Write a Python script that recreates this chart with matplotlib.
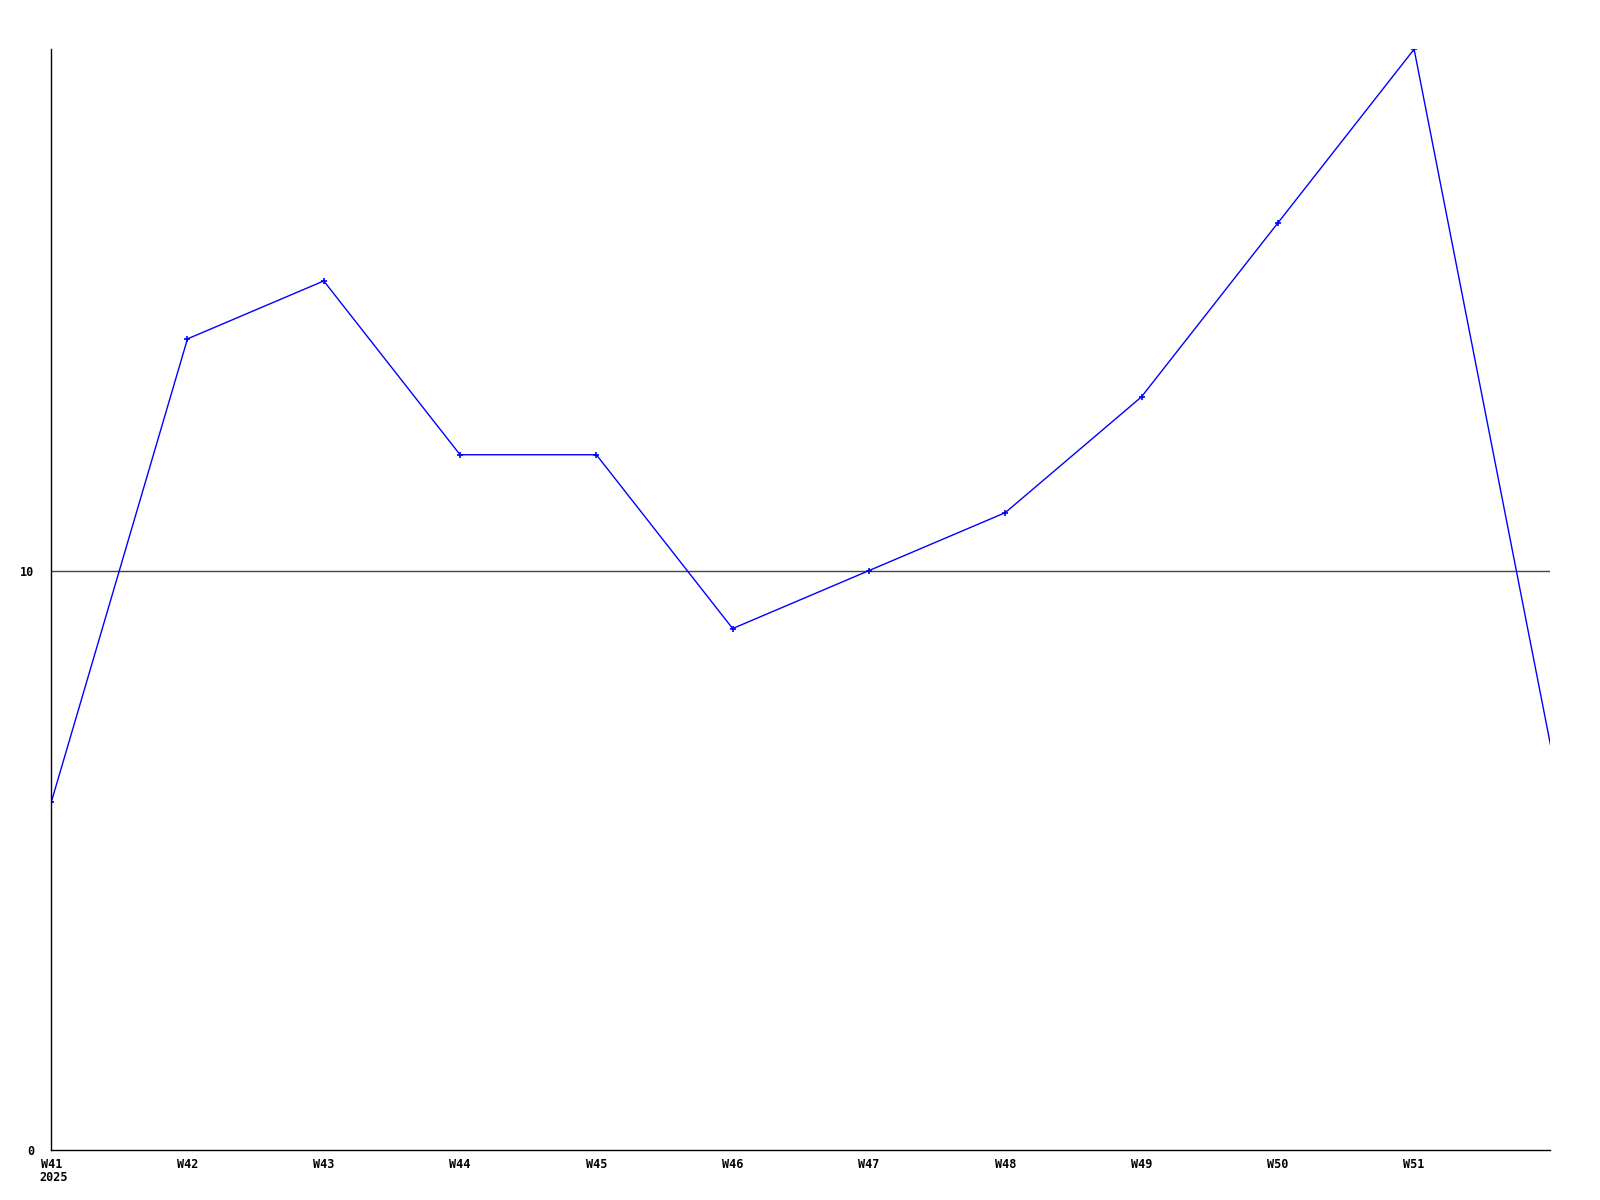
import matplotlib
matplotlib.use("Agg")
import matplotlib.pyplot as plt

## datos semanales
semanas = ["W41", "W42", "W43", "W44", "W45", "W46", "W47", "W48", "W49", "W50", "W51", "W52"]
valores = [6, 14, 15, 12, 12, 9, 10, 11, 13, 16, 19, 7]
etiquetas_x = semanas[:-1]
y_ticks = [0, 10]

fig = plt.figure(figsize=(16, 12), dpi=100)
ax = fig.add_axes([0.032, 0.0417, 0.937, 0.9173])

x = list(range(len(semanas)))
ax.plot(x, valores, color="#0000ff", linewidth=1, marker="+", markersize=4,
        markeredgewidth=1.2, markevery=list(range(len(semanas) - 1)))
ax.axhline(10, color="#444444", linewidth=1, zorder=0)

ax.set_xlim(0, len(semanas) - 1)
ax.set_ylim(0, 19)

fuente = dict(family="DejaVu Sans Mono", weight="bold", size=8.5)
ax.set_xticks(x[:-1])
ax.set_xticklabels(etiquetas_x, **fuente)
ax.set_yticks(y_ticks)
ax.set_yticklabels([str(v) for v in y_ticks], **fuente)
ax.tick_params(length=0, pad=6)
ax.tick_params(axis="y", pad=12)
ax.text(-0.09, -0.019, "2025", transform=ax.get_xaxis_transform(), ha="left", va="top", **fuente)

for lado in ["top", "right"]:
    ax.spines[lado].set_visible(False)
for lado in ["left", "bottom"]:
    ax.spines[lado].set_color("black")
    ax.spines[lado].set_linewidth(1)

fig.savefig("out.png")
